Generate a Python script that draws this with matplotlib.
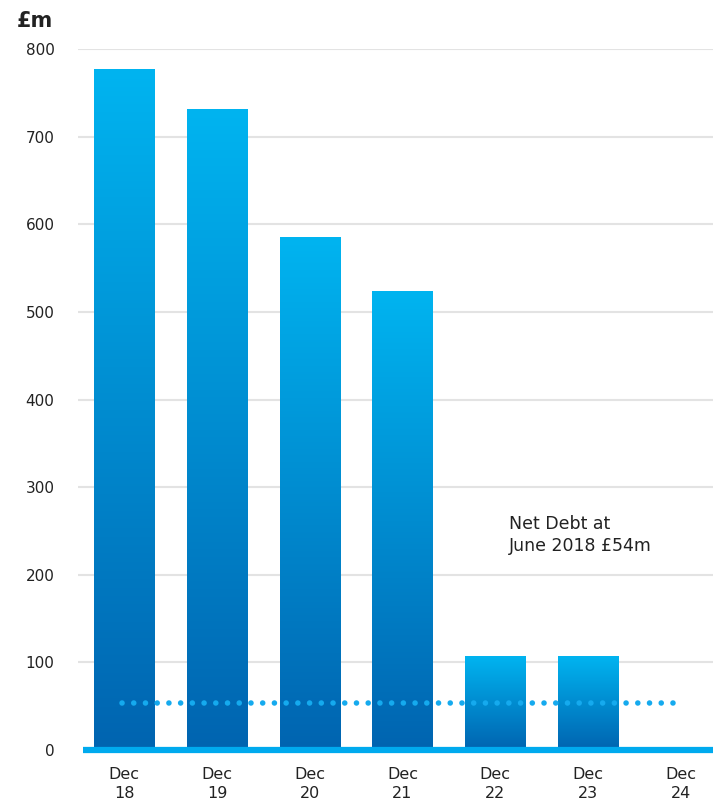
import matplotlib
matplotlib.use("Agg")
import matplotlib.pyplot as plt
import numpy as np
from matplotlib.colors import LinearSegmentedColormap

categories = ["Dec\n18", "Dec\n19", "Dec\n20", "Dec\n21", "Dec\n22", "Dec\n23", "Dec\n24"]
values = [777, 731, 585, 523, 107, 107, 0]
net_debt = 54
yticks = [0, 100, 200, 300, 400, 500, 600, 700, 800]

plt.rcParams['font.family'] = ['DejaVu Sans']
fig = plt.figure(figsize=(7.13, 8.02), dpi=100)
ax = fig.add_axes([78/713, 52/802, 1 - 78/713, (750-49)/802])

cmap = LinearSegmentedColormap.from_list("g", ["#0064B0", "#00B4F0"])
grad = np.linspace(0, 1, 256).reshape(-1, 1)
w = 0.65
x = np.arange(len(categories))
for xi, v in zip(x, values):
    if v > 0:
        ax.imshow(grad, extent=[xi - w/2, xi + w/2, 0, v], origin="lower",
                  cmap=cmap, aspect="auto", zorder=2)

ax.set_xlim(-0.5, 6.35)
ax.set_ylim(0, 800)
ax.set_yticks(yticks)
ax.set_yticklabels([str(t) for t in yticks], fontsize=11, color="#222222")
ax.set_xticks(x)
ax.set_xticklabels(categories, fontsize=11.5, color="#222222", linespacing=1.35)
ax.tick_params(axis="both", length=0)
ax.tick_params(axis="y", pad=17)
ax.tick_params(axis="x", pad=12)
for s in ax.spines.values():
    s.set_visible(False)
for t in yticks[1:]:
    ax.axhline(t, color="#E3E3E3", lw=1.5, zorder=1)
ax.plot([-0.45, 6.35], [0, 0], color="#00AAEE", lw=4.5, zorder=3, clip_on=False,
        solid_capstyle="butt")

ax.plot([-0.02, 6.0], [net_debt, net_debt], color="#15AAEE", lw=4.0,
        linestyle=(0, (0.01, 2.1)), dash_capstyle="round", zorder=4)

ax.text(4.15, 268, "Net Debt at\nJune 2018 £54m", fontsize=12.5, color="#222222",
        va="top", ha="left", linespacing=1.3)
fig.text(17/713, 1 - 21/802, "£m", fontsize=15, fontweight="bold", color="#222222",
         va="center", ha="left")

fig.savefig("out.png", dpi=100, facecolor="white")
